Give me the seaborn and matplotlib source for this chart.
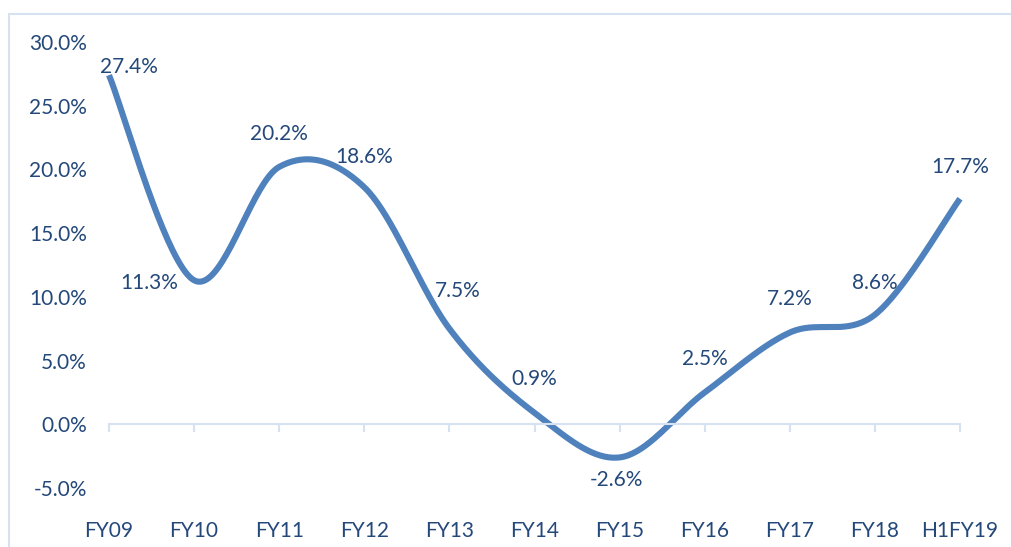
import numpy as np
import pandas as pd
import matplotlib
matplotlib.use('Agg')
import matplotlib.pyplot as plt
import matplotlib.patches as patches
from matplotlib.ticker import FuncFormatter
import seaborn as sns

# Data
periods = ['FY09', 'FY10', 'FY11', 'FY12', 'FY13', 'FY14', 'FY15', 'FY16', 'FY17', 'FY18', 'H1FY19']
growth = [27.4, 11.3, 20.2, 18.6, 7.5, 0.9, -2.6, 2.5, 7.2, 8.6, 17.7]

# label offsets in points (dx, dy) relative to each point
label_offsets = [(14, 6), (-32, -2), (0, 24), (0, 22), (6, 27), (0, 24), (-2, -16), (0, 24), (0, 24), (0, 23), (0, 23)]

line_color = '#4F81BD'
text_color = '#24487A'
axis_color = '#D6E2F2'

sns.set_style('white')
plt.rcParams['font.family'] = ['Lato', 'DejaVu Sans']


def smooth(xs, ys, n=40):
    # Excel style smoothing: cubic bezier with catmull-rom control points
    pts = np.column_stack([xs, ys]).astype(float)
    out = []
    for i in range(len(pts) - 1):
        p0 = pts[i - 1] if i > 0 else pts[i]
        p1 = pts[i]
        p2 = pts[i + 1]
        p3 = pts[i + 2] if i + 2 < len(pts) else pts[i + 1]
        c1 = p1 + (p2 - p0) / 6
        c2 = p2 - (p3 - p1) / 6
        t = np.linspace(0, 1, n)[:, None]
        seg = (1 - t) ** 3 * p1 + 3 * (1 - t) ** 2 * t * c1 + 3 * (1 - t) * t ** 2 * c2 + t ** 3 * p2
        out.append(seg if i == 0 else seg[1:])
    out = np.vstack(out)
    return out[:, 0], out[:, 1]


x = np.arange(len(periods))
sx, sy = smooth(x, growth)
df = pd.DataFrame({'x': sx, 'y': sy})

fig = plt.figure(figsize=(10.12, 5.47), dpi=100)
ax = fig.add_axes([109 / 1012, 1 - 488 / 547, (960 - 109) / 1012, (488 - 42) / 547])

sns.lineplot(data=df, x='x', y='y', ax=ax, color=line_color, linewidth=4.4,
             sort=False, estimator=None)
for l in ax.lines:
    l.set_clip_on(False)
    l.set_solid_capstyle('butt')

ax.set_xlim(0, len(periods) - 1)
ax.set_ylim(-5, 30)
ax.set_yticks(np.arange(-5, 31, 5))
ax.yaxis.set_major_formatter(FuncFormatter(lambda v, p: f'{v:.1f}%'))
ax.set_xlabel('')
ax.set_ylabel('')

for s in ['top', 'right', 'left']:
    ax.spines[s].set_visible(False)
ax.spines['bottom'].set_position(('data', 0))
ax.spines['bottom'].set_color(axis_color)
ax.spines['bottom'].set_linewidth(1.5)
ax.set_xticks(x)
ax.tick_params(axis='x', bottom=True, direction='out', length=6, width=1.5, color=axis_color, labelbottom=False)
ax.tick_params(axis='y', left=False, length=0, pad=16, labelsize=15, labelcolor=text_color)

# category labels along the bottom of the plot area
sec = ax.secondary_xaxis('bottom')
sec.set_xticks(x)
sec.set_xticklabels(periods)
sec.spines['bottom'].set_visible(False)
sec.tick_params(axis='x', length=0, pad=24, labelsize=15, labelcolor=text_color)

for xi, yi, (dx, dy) in zip(x, growth, label_offsets):
    ax.annotate(f'{yi:.1f}%', (xi, yi), xytext=(dx, dy), textcoords='offset points',
                ha='center', va='center', fontsize=15, color=text_color, annotation_clip=False)

# chart frame (only top and left edges visible)
fig.patches.append(patches.Rectangle((9 / 1012, -0.1), 1.2, 1.1 - 14 / 547, transform=fig.transFigure,
                                     fill=False, edgecolor=axis_color, linewidth=1.5))

fig.savefig('out.png', dpi=100)
